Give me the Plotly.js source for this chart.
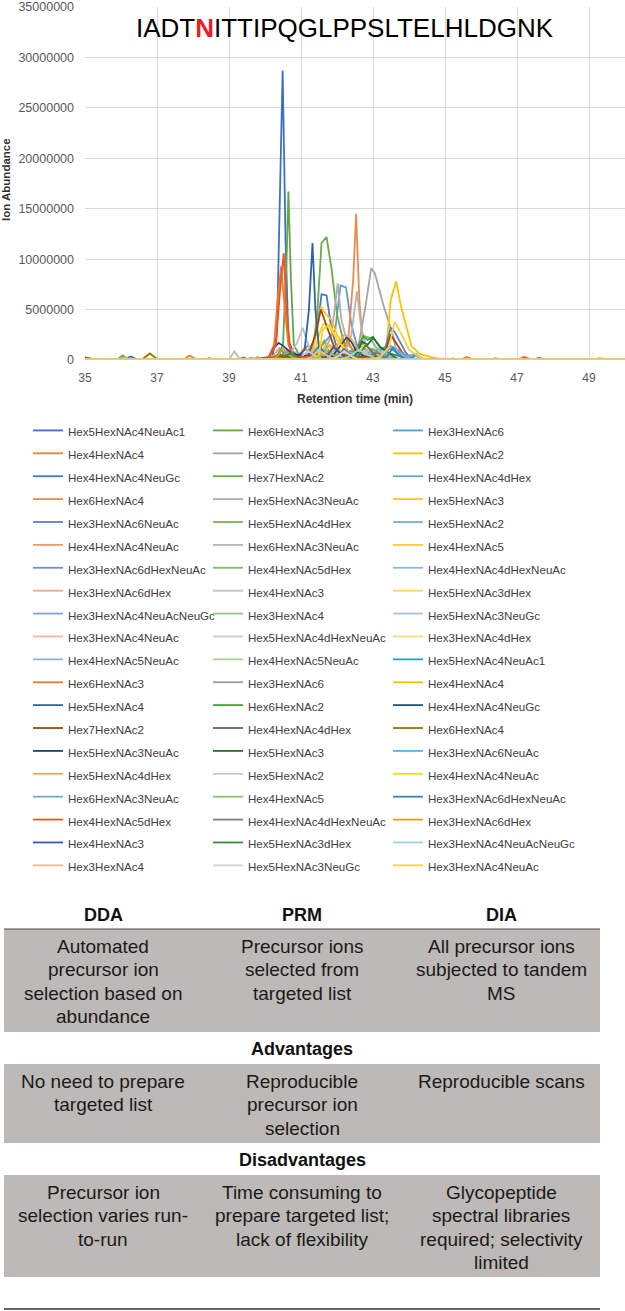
<!DOCTYPE html>
<html>
<head>
<meta charset="utf-8">
<script src="https://cdn.plot.ly/plotly-3.0.1.min.js"></script>
<style>
html,body{margin:0;padding:0;background:#ffffff;}
#chart{width:625px;height:1311px;}
</style>
</head>
<body>
<div id="chart"></div>
<script>
// ---------------- DATA ----------------
const chartTitlePre = 'IADT';
const chartTitleSite = 'N';
const chartTitlePost = 'ITTIPQGLPPSLTELHLDGNK';
const xAxisTitle = 'Retention time (min)';
const yAxisTitle = 'Ion Abundance';

const seriesNames = [
  'Hex5HexNAc4NeuAc1','Hex6HexNAc3','Hex3HexNAc6',
  'Hex4HexNAc4','Hex5HexNAc4','Hex6HexNAc2',
  'Hex4HexNAc4NeuGc','Hex7HexNAc2','Hex4HexNAc4dHex',
  'Hex6HexNAc4','Hex5HexNAc3NeuAc','Hex5HexNAc3',
  'Hex3HexNAc6NeuAc','Hex5HexNAc4dHex','Hex5HexNAc2',
  'Hex4HexNAc4NeuAc','Hex6HexNAc3NeuAc','Hex4HexNAc5',
  'Hex3HexNAc6dHexNeuAc','Hex4HexNAc5dHex','Hex4HexNAc4dHexNeuAc',
  'Hex3HexNAc6dHex','Hex4HexNAc3','Hex5HexNAc3dHex',
  'Hex3HexNAc4NeuAcNeuGc','Hex3HexNAc4','Hex5HexNAc3NeuGc',
  'Hex3HexNAc4NeuAc','Hex5HexNAc4dHexNeuAc','Hex3HexNAc4dHex',
  'Hex4HexNAc5NeuAc','Hex4HexNAc5NeuAc','Hex5HexNAc4NeuAc1',
  'Hex6HexNAc3','Hex3HexNAc6','Hex4HexNAc4',
  'Hex5HexNAc4','Hex6HexNAc2','Hex4HexNAc4NeuGc',
  'Hex7HexNAc2','Hex4HexNAc4dHex','Hex6HexNAc4',
  'Hex5HexNAc3NeuAc','Hex5HexNAc3','Hex3HexNAc6NeuAc',
  'Hex5HexNAc4dHex','Hex5HexNAc2','Hex4HexNAc4NeuAc',
  'Hex6HexNAc3NeuAc','Hex4HexNAc5','Hex3HexNAc6dHexNeuAc',
  'Hex4HexNAc5dHex','Hex4HexNAc4dHexNeuAc','Hex3HexNAc6dHex',
  'Hex4HexNAc3','Hex5HexNAc3dHex','Hex3HexNAc4NeuAcNeuGc',
  'Hex3HexNAc4','Hex5HexNAc3NeuGc','Hex3HexNAc4NeuAc'
];

const seriesColors = [
  '#3f6fc2','#62a744','#5b9bd5',
  '#ed7d31','#a5a5a5','#ffc000',
  '#4a76c6','#6aac48','#6aa5da',
  '#ef8a4a','#adadad','#ffc41a',
  '#5b81c9','#78b455','#7aaedd',
  '#f1986a','#b5b5b5','#ffcb33',
  '#6e8fd0','#86bc66','#8ab8e2',
  '#f3a886','#bfbfbf','#ffd45c',
  '#82a0d6','#96c47b','#9dc3e6',
  '#f4b69c','#c9c9c9','#ffdb7a',
  '#94addb','#a9d08e','#1fa0e0',
  '#f57c1f','#9a9a9a','#ffc000',
  '#2e63ad','#3ca33c','#1f4e79',
  '#9e480e','#636363','#997300',
  '#203d7a','#2e6b34','#56b4e9',
  '#f4a460','#c8c8c8','#ffd700',
  '#7ca6d8','#8cc168','#2e86b0',
  '#f0551e','#7f7f7f','#d9a21b',
  '#2f5db5','#3d8b3d','#9dd2ea',
  '#f8b690','#d0d0d0','#f5d33a'
];

// [retention time (min), ion abundance (millions)]
const s01 = [[35,0.1],[36.1,0.08],[36.28,0.35],[36.45,0.05],[39.5,0.08],[40.2,0.3],[40.33,2.5],[40.41,15],[40.49,28.7],[40.57,12],[40.65,2.0],[40.8,0.6],[41.0,0.3],[41.3,0.3],[41.6,0.8],[41.9,0.3],[42.3,0.15],[43,0.1],[44,0.05],[47.45,0.05],[47.6,0.2],[47.8,0.05],[50,0.05]];
const s02 = [[35,0.05],[35.9,0.05],[36.05,0.45],[36.2,0.05],[40.15,0.05],[40.3,0.2],[40.5,1.5],[40.6,10],[40.65,16.7],[40.72,8],[40.8,1.5],[40.95,0.5],[41.3,0.2],[41.6,0.1],[50,0.05]];
const s03 = [[35,0.05],[40.2,0.05],[40.4,0.3],[41.0,0.6],[41.2,1.5],[41.3,0.8],[41.6,1.5],[41.95,3.0],[42.1,7.4],[42.25,7.2],[42.4,3.5],[42.55,1.5],[42.8,1.0],[43.2,1.0],[43.5,1.2],[43.8,0.6],[44.1,0.2],[44.2,0.5],[44.4,0.1],[44.6,0.05],[48.9,0.05],[49.0,0.12],[49.2,0.05],[50,0.05]];
const s04 = [[35,0.05],[37.75,0.05],[37.9,0.45],[38.1,0.05],[38.35,0.05],[38.45,0.2],[38.6,0.05],[39.9,0.05],[40.1,0.3],[40.25,1.5],[40.35,6],[40.45,9.3],[40.55,5],[40.65,1.5],[40.8,0.5],[41.2,0.6],[41.5,1.0],[41.8,0.5],[42.3,0.2],[43,0.1],[43.4,0.05],[45.45,0.05],[45.6,0.3],[45.8,0.05],[50,0.05]];
const s05 = [[35,0.05],[42.1,0.05],[42.3,0.5],[42.6,1.5],[42.8,5.5],[42.95,9.1],[43.05,8.6],[43.3,5.3],[43.55,2.5],[43.65,0.8],[43.85,0.1],[44.1,0.05],[50,0.05]];
const s06 = [[35,0.05],[43.2,0.05],[43.35,0.3],[43.49,5.9],[43.64,7.8],[43.8,5.0],[44.07,1.4],[44.3,0.6],[44.58,0.3],[44.8,0.15],[45.3,0.08],[49.15,0.05],[49.3,0.2],[49.5,0.05],[50,0.05]];
const s07 = [[35,0.05],[39.25,0.05],[39.4,0.25],[39.55,0.05],[41.0,0.05],[41.2,0.3],[41.45,3],[41.57,6.5],[41.71,6.4],[41.85,3],[42,1.2],[42.2,0.5],[42.4,0.1],[42.6,0.05],[50,0.05]];
const s08 = [[35,0.05],[41.15,0.05],[41.3,0.3],[41.45,4.5],[41.57,11.6],[41.71,12.2],[41.85,9],[42.0,4.5],[42.17,2.0],[42.3,0.8],[42.6,0.5],[42.85,0.1],[43.1,0.05],[50,0.05]];
const s09 = [[35,0.05],[40.9,0.05],[41.1,0.3],[41.3,1.5],[41.45,0.6],[41.9,0.3],[42.1,0.05],[50,0.05]];
const s10 = [[35,0.05],[39.7,0.05],[39.8,0.3],[39.95,0.05],[41.8,0.05],[42,0.3],[42.3,1.5],[42.45,8],[42.53,14.5],[42.62,6],[42.72,1.5],[42.9,0.5],[43.3,0.2],[43.5,0.05],[50,0.05]];
const s11 = [[35,0.05],[39.5,0.05],[39.6,0.25],[39.75,0.05],[41.4,0.05],[41.6,0.4],[41.85,2.5],[42.02,7.6],[42.12,4],[42.3,1.5],[42.6,0.5],[42.8,0.05],[50,0.05]];
const s12 = [[35,0.05],[41.15,0.05],[41.3,0.5],[41.45,3],[41.55,5.3],[41.7,4.5],[41.85,4.0],[42.0,2.5],[42.3,0.8],[42.6,0.3],[42.8,0.05],[50,0.05]];
const s13 = [[35,0.05],[42.6,0.05],[42.8,0.3],[43.2,1.0],[43.35,1.3],[43.49,3.2],[43.6,2.8],[43.75,1.8],[43.9,0.8],[44.05,0.2],[44.2,0.6],[44.35,0.1],[44.5,0.05],[45.1,0.05],[45.2,0.15],[45.35,0.05],[50,0.05]];
const s14 = [[35,0.05],[41.2,0.05],[41.4,0.3],[41.55,1.2],[41.65,2.0],[41.75,1.0],[42,0.5],[42.2,0.05],[50,0.05]];
const s15 = [[35,0.05],[40.4,0.05],[40.6,0.2],[40.8,0.8],[41.0,0.4],[41.5,0.6],[42.0,0.3],[42.2,0.04],[50,0.04]];
const s16 = [[35,0.06],[40.0,0.06],[40.2,0.3],[40.4,1.2],[40.55,0.5],[41.2,0.4],[41.6,0.8],[42.0,0.4],[42.2,0.05],[50,0.05]];
const s17 = [[35,0.05],[42.0,0.05],[42.2,0.5],[42.4,2.5],[42.55,6.8],[42.68,3],[42.85,1],[43.2,0.3],[43.4,0.05],[50,0.05]];
const s18 = [[35,0.05],[41.2,0.05],[41.35,0.4],[41.5,2.5],[41.62,3.6],[41.8,3.3],[42.0,2.0],[42.3,0.6],[42.5,0.05],[50,0.05]];
const s19 = [[35,0.04],[41.2,0.04],[41.4,0.3],[41.6,1.0],[41.8,0.5],[42.4,0.9],[42.7,0.3],[42.9,0.04],[50,0.04]];
const s20 = [[35,0.05],[42.3,0.05],[42.5,0.5],[42.75,2.4],[42.9,2.2],[43.1,1.2],[43.4,0.5],[43.6,0.05],[50,0.05]];
const s21 = [[35,0.05],[42.4,0.05],[42.6,0.3],[42.9,1.2],[43.2,0.9],[43.5,0.4],[43.7,0.04],[50,0.04]];
const s22 = [[35,0.04],[41.3,0.04],[41.5,0.3],[41.7,1.6],[41.9,1.0],[42.2,0.4],[42.4,0.04],[50,0.04]];
const s23 = [[35,0.05],[39.0,0.05],[39.15,0.85],[39.3,0.1],[40.5,0.05],[40.7,0.5],[40.9,1.8],[41.05,3.2],[41.2,1.5],[41.4,0.4],[41.6,0.05],[50,0.05]];
const s24 = [[35,0.04],[42.3,0.04],[42.5,0.3],[42.75,1.4],[43.0,0.8],[43.3,0.3],[43.5,0.04],[50,0.04]];
const s25 = [[35,0.04],[40.2,0.04],[40.4,0.3],[40.6,0.9],[40.8,0.4],[41.0,0.04],[50,0.04]];
const s26 = [[35,0.04],[35.95,0.04],[36.1,0.3],[36.25,0.04],[41.2,0.04],[41.4,0.3],[41.6,0.9],[41.8,0.4],[42.0,0.04],[50,0.04]];
const s27 = [[35,0.04],[42.8,0.04],[43.0,0.3],[43.3,0.9],[43.6,0.5],[43.9,0.2],[44.1,0.04],[50,0.04]];
const s28 = [[35,0.04],[42.5,0.04],[42.7,0.3],[42.9,1.0],[43.1,0.5],[43.3,0.04],[50,0.04]];
const s29 = [[35,0.04],[41.6,0.04],[41.8,0.3],[42.0,1.2],[42.3,0.5],[42.5,0.04],[50,0.04]];
const s30 = [[35,0.04],[41.7,0.04],[41.9,0.3],[42.1,1.3],[42.4,0.6],[42.6,0.04],[50,0.04]];
const s31 = [[35,0.04],[42.0,0.04],[42.2,0.3],[42.45,0.8],[42.7,0.3],[42.9,0.04],[50,0.04]];
const s32 = [[35,0.04],[42.9,0.04],[43.1,0.2],[43.35,0.7],[43.6,0.3],[43.8,0.04],[50,0.04]];
const s33 = [[35,0.05],[40.1,0.05],[40.3,0.2],[40.45,1.0],[40.6,0.4],[40.9,0.2],[41.1,0.2],[41.3,0.5],[41.5,1.4],[41.7,0.6],[41.9,0.05],[50,0.05]];
const s34 = [[35,0.05],[40.7,0.05],[40.9,0.3],[41.1,1.2],[41.3,0.5],[41.7,0.3],[42.1,0.6],[42.3,2.0],[42.45,0.8],[42.65,0.05],[50,0.05]];
const s35 = [[35,0.05],[40.2,0.05],[40.4,0.3],[40.55,0.7],[40.7,0.3],[40.9,0.05],[42.6,0.05],[42.8,0.4],[43.0,1.1],[43.2,0.5],[43.4,0.05],[50,0.05]];
const s36 = [[35,0.05],[41.4,0.05],[41.6,0.3],[41.8,1.5],[42.0,1.0],[42.3,0.4],[42.5,0.05],[50,0.05]];
const s37 = [[35,0.05],[40.7,0.05],[40.9,0.3],[41.1,1.0],[41.22,5],[41.32,11.6],[41.4,5],[41.5,1.2],[41.7,0.5],[42,0.3],[42.2,0.05],[50,0.05]];
const s38 = [[35,0.05],[42.2,0.05],[42.4,0.5],[42.6,1.5],[42.73,2.35],[42.85,2.0],[43.0,2.3],[43.2,1.2],[43.5,0.6],[43.9,0.3],[44.1,0.1],[44.3,0.05],[50,0.05]];
const s39 = [[35,0.05],[41.7,0.05],[41.9,0.5],[42.1,1.5],[42.27,2.25],[42.4,1.8],[42.55,0.8],[42.8,0.3],[43.0,0.05],[50,0.05]];
const s40 = [[35,0.25],[35.2,0.1],[35.4,0.05],[40.1,0.05],[40.3,0.3],[40.5,0.4],[40.8,0.3],[41.2,0.4],[41.4,2.5],[41.55,5.0],[41.7,3.5],[41.9,1.5],[42.1,0.6],[42.4,0.3],[42.8,0.3],[43.3,0.3],[43.49,2.55],[43.62,1.8],[43.8,0.8],[44.0,0.1],[44.2,0.05],[46.25,0.05],[46.4,0.15],[46.55,0.05],[50,0.05]];
const s41 = [[35,0.05],[40.0,0.05],[40.2,0.2],[40.4,0.6],[40.6,0.3],[41.0,0.2],[41.4,0.6],[41.6,0.3],[41.8,0.05],[50,0.05]];
const s42 = [[35,0.05],[36.6,0.1],[36.8,0.65],[37.0,0.1],[37.2,0.05],[40.1,0.05],[40.3,0.3],[40.45,0.5],[40.6,0.2],[40.8,0.05],[50,0.05]];
const s43 = [[35,0.05],[39.9,0.05],[40.1,0.2],[40.25,1.2],[40.38,1.7],[40.5,1.4],[40.7,0.8],[40.9,0.5],[41.1,0.4],[41.4,0.2],[41.6,0.05],[50,0.05]];
const s44 = [[35,0.05],[42.3,0.05],[42.5,0.4],[42.7,1.8],[42.85,1.5],[43.0,2.2],[43.2,1.3],[43.5,0.5],[43.7,0.05],[50,0.05]];
const s45 = [[35,0.05],[43.0,0.05],[43.2,0.3],[43.45,1.2],[43.65,0.8],[43.9,0.3],[44.15,0.6],[44.3,0.1],[44.5,0.05],[50,0.05]];
const s46 = [[35,0.05],[41.6,0.05],[41.8,0.4],[42.0,1.5],[42.2,2.5],[42.35,2.3],[42.6,1.0],[42.9,0.4],[43.1,0.05],[50,0.05]];
const s47 = [[35,0.05],[40.8,0.05],[41.0,0.3],[41.2,0.9],[41.4,0.4],[41.6,0.05],[50,0.05]];
const s48 = [[35,0.05],[41.3,0.05],[41.5,0.5],[41.6,3.0],[41.8,3.5],[42.0,2.0],[42.3,0.8],[42.5,0.05],[50,0.05]];
const s49 = [[35,0.05],[43.1,0.05],[43.3,0.3],[43.5,1.4],[43.7,1.0],[43.9,0.4],[44.1,0.05],[50,0.05]];
const s50 = [[35,0.05],[41.3,0.05],[41.5,0.3],[41.7,0.9],[41.9,0.5],[42.1,0.05],[50,0.05]];
const s51 = [[35,0.05],[41.8,0.05],[42.0,0.3],[42.2,1.1],[42.4,0.5],[42.6,0.05],[43.2,0.05],[43.4,0.4],[43.55,1.2],[43.7,0.5],[43.9,0.05],[50,0.05]];
const s52 = [[35,0.15],[35.2,0.05],[40.0,0.05],[40.1,0.2],[40.3,1.5],[40.42,7],[40.52,10.6],[40.6,5],[40.7,1.0],[40.85,0.3],[41.2,0.3],[41.4,0.05],[47.05,0.05],[47.2,0.3],[47.4,0.05],[50,0.05]];
const s53 = [[35,0.05],[42.7,0.05],[42.9,0.3],[43.1,0.8],[43.3,0.4],[43.5,0.05],[50,0.05]];
const s54 = [[35,0.05],[40.1,0.05],[40.3,0.2],[40.5,1.1],[40.7,0.4],[40.9,0.05],[50,0.05]];
const s55 = [[35,0.05],[41.5,0.05],[41.7,0.3],[41.9,1.3],[42.1,0.6],[42.3,0.05],[50,0.05]];
const s56 = [[35,0.05],[40.3,0.05],[40.5,0.2],[40.7,0.7],[40.9,0.3],[41.1,0.05],[42.4,0.05],[42.6,0.4],[42.8,1.5],[43.0,0.7],[43.2,0.05],[50,0.05]];
const s57 = [[35,0.05],[42.1,0.05],[42.3,0.3],[42.6,1.0],[42.9,0.5],[43.1,0.05],[50,0.05]];
const s58 = [[35,0.05],[41.1,0.05],[41.3,0.3],[41.5,1.0],[41.7,0.5],[41.9,0.05],[50,0.05]];
const s59 = [[35,0.05],[41.8,0.05],[42.0,0.3],[42.2,0.9],[42.4,0.4],[42.6,0.05],[50,0.05]];
const s60 = [[35,0.05],[43.0,0.05],[43.2,0.3],[43.45,1.3],[43.6,3.8],[43.8,2.5],[44.0,1.0],[44.3,0.3],[44.5,0.05],[50,0.05]];

const seriesData = [s01,s02,s03,s04,s05,s06,s07,s08,s09,s10,s11,s12,s13,s14,s15,s16,s17,s18,s19,s20,
  s21,s22,s23,s24,s25,s26,s27,s28,s29,s30,s31,s32,s33,s34,s35,s36,s37,s38,s39,s40,
  s41,s42,s43,s44,s45,s46,s47,s48,s49,s50,s51,s52,s53,s54,s55,s56,s57,s58,s59,s60];

// Comparison table content
const methodNames = ['DDA','PRM','DIA'];
const principleText = [
  ['Automated','precursor ion','selection based on','abundance'],
  ['Precursor ions','selected from','targeted list'],
  ['All precursor ions','subjected to tandem','MS']
];
const sectionTitles = ['Advantages','Disadvantages'];
const advantageText = [
  ['No need to prepare','targeted list'],
  ['Reproducible','precursor ion','selection'],
  ['Reproducible scans']
];
const disadvantageText = [
  ['Precursor ion','selection varies run-','to-run'],
  ['Time consuming to','prepare targeted list;','lack of flexibility'],
  ['Glycopeptide','spectral libraries','required; selectivity','limited']
];

// ---------------- LAYOUT HELPERS ----------------
const W = 625, H = 1311;
const M = {l:85, r:0, t:7, b:951};
const plotW = W - M.l - M.r, plotH = H - M.t - M.b;
const px2x = p => (p - M.l) / plotW;          // page px -> paper x
const px2y = p => (H - M.b - p) / plotH;      // page px -> paper y

const FONT = 'Liberation Sans, Arial, Helvetica, sans-serif';
const legendIds = ['legend', 'legend2', 'legend3'];

const traces = seriesData.map((d, i) => ({
  type: 'scatter',
  mode: 'lines',
  x: d.map(p => p[0]),
  y: d.map(p => p[1] * 1e6),
  name: '<span style="font-size:11.6px">' + seriesNames[i] + '</span>',
  legend: legendIds[i % 3],
  line: {color: seriesColors[i], width: 1.8},
  hoverinfo: 'skip'
}));

const annotations = [];
const shapes = [];

annotations.push({
  text: '<b>' + yAxisTitle + '</b>', xref:'paper', yref:'paper',
  x: px2x(6), y: px2y(180), textangle: -90, showarrow:false,
  xanchor:'center', yanchor:'middle',
  font:{family:FONT, size:11.5, color:'#333333'}
});
annotations.push({
  text: '<b>' + xAxisTitle + '</b>', xref:'paper', yref:'paper',
  x: px2x(355), y: px2y(399), showarrow:false,
  xanchor:'center', yanchor:'middle',
  font:{family:FONT, size:12, color:'#333333'}
});

// table geometry (page pixels)
const tblLeft = 4, tblRight = 600;
const colCenters = [103, 302, 501];
const linePitch = 23.3;
const tableFill = '#bdb9b7';
const bodyFont = {family:FONT, size:19, color:'#1a1a1a'};
const headFont = {family:FONT, size:18, color:'#111111'};

const blocks = [
  {top:929, bottom:1032, lines: principleText},
  {top:1064, bottom:1143, lines: advantageText},
  {top:1175, bottom:1277, lines: disadvantageText}
];

methodNames.forEach((m, c) => {
  annotations.push({text:'<b>' + m + '</b>', xref:'paper', yref:'paper',
    x: px2x(colCenters[c]), y: px2y(915), showarrow:false,
    xanchor:'center', yanchor:'middle', font: headFont});
});
annotations.push({text:'<b>' + sectionTitles[0] + '</b>', xref:'paper', yref:'paper',
  x: px2x(302), y: px2y(1049), showarrow:false, xanchor:'center', yanchor:'middle', font: headFont});
annotations.push({text:'<b>' + sectionTitles[1] + '</b>', xref:'paper', yref:'paper',
  x: px2x(302), y: px2y(1160), showarrow:false, xanchor:'center', yanchor:'middle', font: headFont});

blocks.forEach(b => {
  shapes.push({type:'rect', xref:'paper', yref:'paper',
    x0: px2x(tblLeft), x1: px2x(tblRight), y0: px2y(b.top), y1: px2y(b.bottom),
    fillcolor: tableFill, line:{width:0}, layer:'below'});
  b.lines.forEach((col, c) => {
    col.forEach((txt, k) => {
      annotations.push({text: txt, xref:'paper', yref:'paper',
        x: px2x(colCenters[c]), y: px2y(b.top + 17.5 + k * linePitch),
        showarrow:false, xanchor:'center', yanchor:'middle', font: bodyFont});
    });
  });
});
shapes.push({type:'line', xref:'paper', yref:'paper',
  x0: px2x(tblLeft), x1: px2x(tblRight), y0: px2y(929), y1: px2y(929),
  line:{color:'#4a4a4a', width:1.2}});
shapes.push({type:'line', xref:'paper', yref:'paper',
  x0: px2x(tblLeft), x1: px2x(tblRight), y0: px2y(1309), y1: px2y(1309),
  line:{color:'#333333', width:1.5}});

function legendAt(px) {
  return {
    orientation:'v', traceorder:'normal',
    x: px2x(px), xanchor:'left', y: px2y(414), yanchor:'top',
    itemwidth:30, tracegroupgap:0,
    font:{family:FONT, size:15.3, color:'#404040'},
    bgcolor:'rgba(0,0,0,0)', borderwidth:0
  };
}

const layout = {
  width: W, height: H,
  margin: {l:M.l, r:M.r, t:M.t, b:M.b, pad:0, autoexpand:false},
  paper_bgcolor:'#ffffff', plot_bgcolor:'#ffffff',
  font:{family:FONT, color:'#595959'},
  title: {
    text: chartTitlePre + '<span style="color:#e8202a"><b>' + chartTitleSite + '</b></span>' + chartTitlePost,
    font:{family:FONT, size:26, color:'#000000'},
    xref:'paper', x: px2x(344.5), xanchor:'center',
    yref:'container', y: 1 - 28/H, yanchor:'middle'
  },
  xaxis: {
    range:[35,50], tick0:35, dtick:2, showgrid:true, gridcolor:'#d9d9d9', gridwidth:1,
    zeroline:false, showline:false, ticks:'', ticklabelstandoff:9,
    tickfont:{family:FONT, size:12, color:'#595959'}, fixedrange:true
  },
  yaxis: {
    range:[0,35000000], tick0:0, dtick:5000000, tickformat:'d',
    showgrid:true, gridcolor:'#d9d9d9', gridwidth:1,
    zeroline:false, showline:false, ticks:'', ticklabelstandoff:10,
    tickfont:{family:FONT, size:12.5, color:'#595959'}, fixedrange:true
  },
  showlegend: true,
  legend: legendAt(28),
  legend2: legendAt(208),
  legend3: legendAt(388),
  annotations: annotations,
  shapes: shapes
};

Plotly.newPlot('chart', traces, layout, {staticPlot:true, displayModeBar:false});
</script>
</body>
</html>
